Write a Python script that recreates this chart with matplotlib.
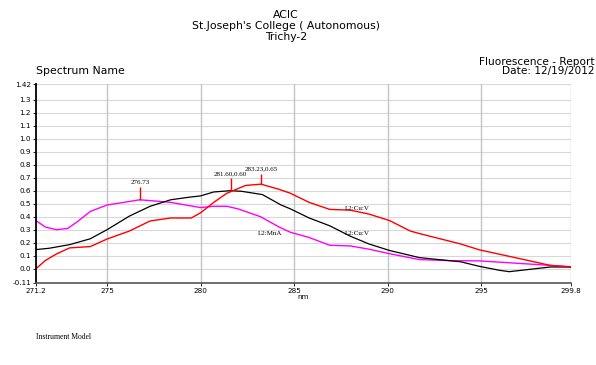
import numpy as np
import matplotlib.pyplot as plt

# spectra (nm, intensity)
mna_x = [271.2, 271.7, 272.3, 272.9, 273.4, 274.1, 275.0, 275.9, 276.75, 277.6, 278.4, 279.2, 280.0,
         280.7, 281.4, 282.0, 282.6, 283.2, 283.7, 284.2, 284.8, 285.8, 286.9, 288.0, 289.0, 290.1,
         291.7, 293.3, 294.9, 297.1, 299.8]
mna_y = [0.37, 0.32, 0.30, 0.31, 0.36, 0.44, 0.49, 0.51, 0.53, 0.52, 0.51, 0.49, 0.47,
         0.48, 0.48, 0.46, 0.43, 0.40, 0.36, 0.32, 0.28, 0.24, 0.18, 0.175, 0.15, 0.115,
         0.07, 0.062, 0.06, 0.04, 0.015]

cuv1_x = [271.2, 271.9, 273.0, 274.1, 275.0, 276.2, 277.3, 278.4, 279.4, 280.0, 280.7, 281.6,
          282.2, 283.3, 284.3, 284.8, 285.8, 286.9, 288.0, 289.0, 290.1, 291.7, 293.9, 294.9,
          296.0, 296.5, 297.6, 298.7, 299.8]
cuv1_y = [0.147, 0.157, 0.185, 0.23, 0.30, 0.405, 0.48, 0.53, 0.55, 0.56, 0.59, 0.60,
          0.595, 0.57, 0.49, 0.46, 0.39, 0.33, 0.25, 0.19, 0.14, 0.085, 0.053, 0.018,
          -0.013, -0.023, -0.005, 0.013, 0.013]

cuv2_x = [271.2, 271.7, 272.3, 273.0, 274.1, 275.0, 276.2, 277.3, 278.4, 279.5, 280.0, 280.7,
          281.4, 282.4, 283.23, 284.2, 284.8, 285.8, 286.9, 288.0, 289.0, 290.1, 291.2, 291.7,
          293.9, 294.9, 297.1, 298.7, 299.8]
cuv2_y = [0.0, 0.063, 0.114, 0.16, 0.17, 0.228, 0.29, 0.367, 0.39, 0.39, 0.43, 0.51,
          0.58, 0.64, 0.65, 0.61, 0.58, 0.51, 0.456, 0.45, 0.42, 0.37, 0.29, 0.27,
          0.19, 0.145, 0.076, 0.025, 0.013]

xticks = [271.2, 275, 280, 285, 290, 295, 299.8]
yticks = [-0.11, 0.0, 0.1, 0.2, 0.3, 0.4, 0.5, 0.6, 0.7, 0.8, 0.9, 1.0, 1.1, 1.2, 1.3, 1.42]

plt.rcParams['font.family'] = ['DejaVu Sans']

fig = plt.figure(figsize=(5.96, 3.65), dpi=100)
ax = fig.add_axes([0.0604, 0.2247, 0.8977, 0.545])

ax.plot(mna_x, mna_y, color='#ff00ff', lw=1)
ax.plot(cuv1_x, cuv1_y, color='black', lw=0.9)
ax.plot(cuv2_x, cuv2_y, color='#ff0000', lw=1)

ax.set_xlim(271.2, 299.8)
ax.set_ylim(-0.11, 1.42)
ax.set_xticks(xticks)
ax.set_xticklabels(['271.2', '275', '280', '285', '290', '295', '299.8'])
ax.set_yticks(yticks)
ax.set_yticklabels(['-0.11'] + ['%.1f' % v for v in yticks[1:-1]] + ['1.42'])
ax.tick_params(labelsize=5.2, length=2, width=0.6, pad=1.5)
for v in yticks[1:]:
    ax.axhline(v, color='#d8d8d8', lw=0.8, zorder=0)
for v in xticks[1:]:
    ax.axvline(v, color='#c4c4c4', lw=1, zorder=0)
for s in ['top', 'right']:
    ax.spines[s].set_visible(False)
ax.spines['left'].set_linewidth(1.3)
ax.spines['bottom'].set_color('#555555')
ax.spines['bottom'].set_linewidth(1.2)
ax.set_xlabel('nm', fontsize=5.2, labelpad=0)

# peak markers
serif = ['Liberation Serif', 'DejaVu Serif']
ax.vlines(276.75, 0.53, 0.63, color='red', lw=1)
ax.text(276.75, 0.64, '276.73', fontsize=5, family=serif, ha='center', va='bottom')
ax.vlines(281.6, 0.60, 0.70, color='red', lw=1)
ax.text(281.6, 0.71, '281.60,0.60', fontsize=5, family=serif, ha='center', va='bottom')
ax.vlines(283.23, 0.65, 0.73, color='red', lw=1)
ax.text(283.23, 0.75, '283.23,0.65', fontsize=5, family=serif, ha='center', va='bottom')

ax.text(288.4, 0.46, 'L2:Cu:V', fontsize=5, family=serif, ha='center', va='center')
ax.text(288.4, 0.27, 'L2:Cu:V', fontsize=5, family=serif, ha='center', va='center')
ax.text(283.7, 0.27, 'L2:MnA', fontsize=5, family=serif, ha='center', va='center')

fig.text(0.48, 0.958, 'ACIC', fontsize=7.8, ha='center', va='center')
fig.text(0.48, 0.929, "St.Joseph's College ( Autonomous)", fontsize=7.8, ha='center', va='center')
fig.text(0.48, 0.899, 'Trichy-2', fontsize=7.8, ha='center', va='center')
fig.text(0.061, 0.805, 'Spectrum Name', fontsize=7.8, ha='left', va='center')
fig.text(0.998, 0.830, 'Fluorescence - Report', fontsize=7.6, ha='right', va='center')
fig.text(0.998, 0.805, 'Date: 12/19/2012', fontsize=7.6, ha='right', va='center')
fig.text(0.061, 0.077, 'Instrument Model', fontsize=5.5, family=serif, ha='left', va='center')

fig.savefig('out.png', dpi=100)
